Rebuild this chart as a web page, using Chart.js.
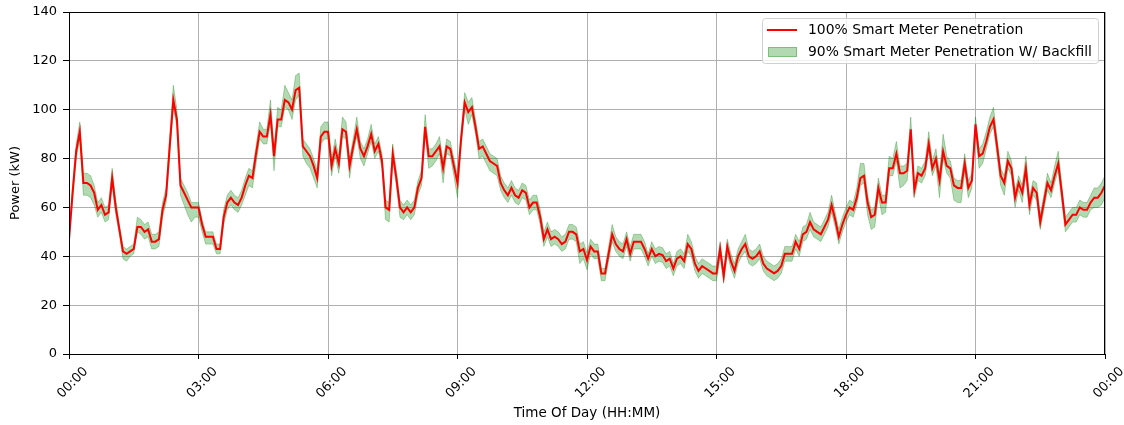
<!DOCTYPE html>
<html>
<head>
<meta charset="utf-8">
<script src="https://cdn.jsdelivr.net/npm/chart.js@4.4.1/dist/chart.umd.min.js"></script>
<style>
  html, body { margin: 0; padding: 0; background: #fff; }
  #wrap { position: relative; width: 1124px; height: 425px; }
</style>
</head>
<body>
<div id="wrap"><canvas id="powerChart"></canvas></div>
<script>
// sampling interval of the series, minutes
const STEP_MIN = 5;

// 100% smart meter penetration, kW, 00:00 .. 24:00 every 5 min
const power100 = [
  47,66,83,91,70,70,69,66,59,61,57,58,72,60,51,42,41,42,43,52,52,50,51,46,46,47,59,65,85,104,96,69,66,63,60,60,
  60,53,48,48,48,43,43,56,62,64,62,61,64,69,73,72,82,91,89,89,98,81,96,96,104,103,100,108,109,85,83,81,77,72,89,91,
  91,77,84,78,92,91,77,85,92,84,81,85,90,83,86,79,60,59,82,72,60,58,60,58,60,68,72,93,81,81,83,85,76,85,84,77,
  70,88,103,99,101,93,84,85,82,79,78,77,70,67,65,68,65,64,67,66,60,62,62,56,47,51,47,48,47,45,46,50,50,49,42,43,
  38.5,44,42,42,33,33,41,49,45,43,42,47,41,46,46,46,43,39,43,40,41,40.5,38,39,35,39,40,38,45,43,37,34,36,35,34,33,
  33,43,32,44,38,34,40,43,45,40,39,40,42,37,35,34,33,34,36,41,41,41,46,43,49,50,54,51,50,49,52,55,61,55,48,53,
  57,60,59,64,72,73,62,56,57,68,62,62,76,76,82,74,74,75,92,67,74,73,76,86,76,80,71,83,77,76,69,68,68,78,68,71,
  94,81,82,87,93,96,85,73,70,79,76,64,70,66,76,61,68,66,54,62,70,67,73,78,66,53,55,57,57,60,59,59,62,64,64,66,69
];

// 90% w/ backfill band: how far it reaches above / below the 100% line, kW
const bandUp = [
  2,3,3,4,4,4,4,3,3,3,3,3,4,3,2,2,2,2,2,4,3,3,3,3,3,3,3,3,4,6,4,3,3,3,2,2,
  2,2,2,2,2,2,2,3,3,3,3,3,3,3,3,3,3,4,3,3,6,3,5,4,6,4,4,6,6,3,3,3,3,3,4,4,
  4,3,4,3,5,4,3,3,5,3,3,3,4,3,3,3,3,3,4,3,3,3,3,3,3,3,3,5,3,3,3,4,3,3,3,3,
  3,3,4,4,4,3,3,3,3,3,3,3,3,3,3,3,3,3,3,3,3,3,3,3,3,3,3,3,3,3,3,3,3,3,3,3,
  3,3,3,3,2,2,3,4,3,3,3,3,3,3,3,3,3,2,3,3,3,3,3,3,2,3,3,3,4,3,3,3,3,3,3,3,
  3,3,2,3,3,3,3,3,4,3,3,3,3,3,3,3,3,3,3,3,3,3,3,3,3,3,4,3,3,3,3,3,4,3,3,3,
  3,3,3,4,6,5,3,3,3,4,3,3,5,4,5,3,3,3,5,3,3,3,3,5,3,4,3,7,4,3,3,3,3,4,3,3,
  3,3,4,4,4,5,3,3,3,4,3,3,3,3,5,3,3,4,3,3,4,3,4,5,3,3,3,3,3,3,3,3,3,4,4,4,4
];
const bandDown = [
  3,3,3,3,5,5,5,5,3,3,3,3,3,3,2,3,3,2,2,2,3,3,3,3,3,3,3,3,3,3,3,4,5,6,6,4,
  4,3,3,3,3,2,2,3,3,3,3,3,3,4,4,4,4,3,3,3,3,6,3,3,3,3,4,4,3,4,5,5,5,4,3,3,
  3,4,3,4,3,3,5,3,3,4,4,3,3,3,3,3,5,5,3,3,4,3,3,3,3,3,3,3,5,4,4,3,6,3,3,4,
  6,3,3,5,3,3,4,4,4,4,4,4,3,3,3,3,3,3,3,3,3,3,3,3,3,3,3,3,3,3,3,3,3,3,5,4,
  4,3,3,3,3,3,3,3,3,3,3,3,3,3,3,3,3,3,3,3,3,3,3,3,3,3,3,3,3,3,3,3,3,3,3,3,
  3,3,3,3,3,3,3,3,3,3,3,3,3,3,3,3,3,3,3,3,3,3,3,3,3,3,3,3,3,3,3,3,3,3,3,3,
  3,3,3,3,3,3,5,5,5,3,5,4,3,3,3,6,5,4,3,3,3,3,3,3,3,3,7,3,3,4,6,6,6,3,4,3,
  3,5,4,3,3,3,4,4,5,3,3,4,3,4,3,4,3,3,3,3,3,3,3,3,4,3,3,3,3,3,3,3,3,4,4,5,5
];

const xTicks = [0, 180, 360, 540, 720, 900, 1080, 1260, 1440];
const xTickLabels = ['00:00','03:00','06:00','09:00','12:00','15:00','18:00','21:00','00:00'];
const legendLabels = ['100% Smart Meter Penetration', '90% Smart Meter Penetration W/ Backfill'];

const RED = '#ff0000';
const BAND = 'rgba(0,128,0,0.3)';
const FONT = '"DejaVu Sans", sans-serif';

const minutes = power100.map((_, i) => i * STEP_MIN);
const toPts = arr => arr.map((v, i) => ({ x: minutes[i], y: v }));
const upper = power100.map((v, i) => v + bandUp[i]);
const lower = power100.map((v, i) => v - bandDown[i]);

// matplotlib-like frame (top + right spines) and legend box
const framePlugin = {
  id: 'frame',
  afterDraw(chart) {
    const { ctx, chartArea: a } = chart;
    ctx.save();
    ctx.strokeStyle = '#000';
    ctx.lineWidth = 1;
    ctx.strokeRect(Math.round(a.left) + 0.5, Math.round(a.top) + 0.5,
      Math.round(a.right - a.left) - 1, Math.round(a.bottom - a.top));

    // legend
    const bx = a.right - 343, by = a.top + 6, bw = 336, bh = 45;
    ctx.beginPath();
    ctx.roundRect(bx + 0.5, by + 0.5, bw, bh, 3);
    ctx.fillStyle = 'rgba(255,255,255,0.8)';
    ctx.fill();
    ctx.strokeStyle = '#d0d0d0';
    ctx.stroke();

    ctx.strokeStyle = RED;
    ctx.lineWidth = 2;
    ctx.beginPath();
    ctx.moveTo(bx + 5, by + 12);
    ctx.lineTo(bx + 35, by + 12);
    ctx.stroke();

    ctx.fillStyle = BAND;
    ctx.fillRect(bx + 6, by + 29, 29, 10);
    ctx.strokeStyle = BAND;
    ctx.lineWidth = 1;
    ctx.strokeRect(bx + 6.5, by + 29.5, 28, 9);

    ctx.fillStyle = '#000';
    ctx.font = '13.9px ' + FONT;
    ctx.textBaseline = 'middle';
    ctx.fillText(legendLabels[0], bx + 46, by + 12);
    ctx.fillText(legendLabels[1], bx + 46, by + 34);
    ctx.restore();
  }
};

new Chart(document.getElementById('powerChart'), {
  type: 'line',
  data: {
    datasets: [
      { label: legendLabels[0], data: toPts(power100), borderColor: RED, borderWidth: 2,
        pointRadius: 0, tension: 0, fill: false },
      { label: 'upper', data: toPts(upper), borderColor: BAND, borderWidth: 1, backgroundColor: BAND,
        pointRadius: 0, tension: 0, fill: '+1' },
      { label: 'lower', data: toPts(lower), borderColor: BAND, borderWidth: 1,
        pointRadius: 0, tension: 0, fill: false }
    ]
  },
  options: {
    responsive: true, maintainAspectRatio: false, animation: false,
    layout: { padding: { left: 0, right: 19, top: 12, bottom: 0 } },
    plugins: { legend: { display: false }, tooltip: { enabled: false } },
    scales: {
      x: {
        type: 'linear', min: 0, max: 1440,
        afterBuildTicks: s => { s.ticks = xTicks.map(v => ({ value: v })); },
        afterFit: s => { s.height = 71; s.paddingLeft = 0; s.paddingRight = 0; },
        grid: { color: '#b0b0b0', tickColor: '#000', tickLength: 5 },
        border: { color: '#000' },
        ticks: {
          color: '#000', font: { family: FONT, size: 13 },
          minRotation: 45, maxRotation: 45, autoSkip: false, padding: 5, labelOffset: 17,
          callback: v => xTickLabels[xTicks.indexOf(v)]
        },
        title: { display: true, text: 'Time Of Day (HH:MM)', color: '#000',
          font: { family: FONT, size: 13.5 }, padding: { top: 0, bottom: 3 } }
      },
      y: {
        min: 0, max: 140,
        afterFit: s => { s.width = 69; s.paddingTop = 0; s.paddingBottom = 0; },
        grid: { color: '#b0b0b0', tickColor: '#000', tickLength: 6 },
        border: { color: '#000' },
        ticks: { stepSize: 20, color: '#000', font: { family: FONT, size: 13 }, padding: 6 },
        title: { display: true, text: 'Power (kW)', color: '#000',
          font: { family: FONT, size: 13 }, padding: { top: 8, bottom: 0 } }
      }
    }
  },
  plugins: [framePlugin]
});
</script>
</body>
</html>
